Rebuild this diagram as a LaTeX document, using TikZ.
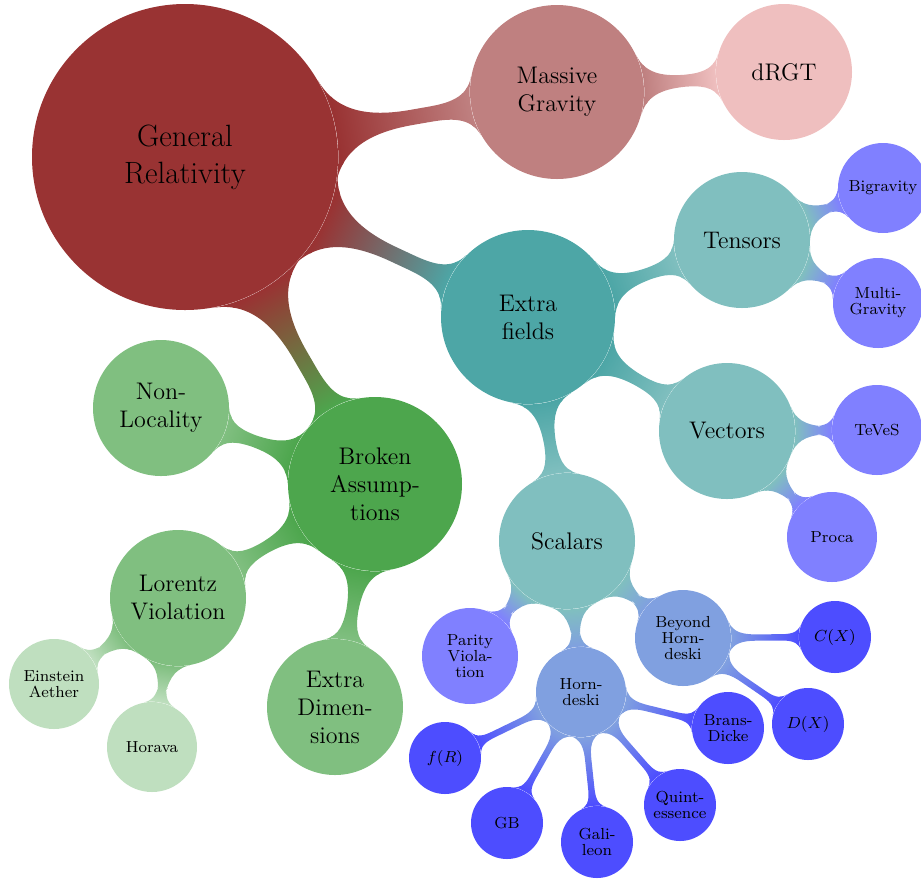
\documentclass[tikz,border=0pt]{standalone}
\usetikzlibrary{mindmap,backgrounds}
\definecolor{grcol}{RGB}{153,51,51}
\definecolor{mgcol}{RGB}{191,128,128}
\definecolor{drgtcol}{RGB}{239,191,191}
\definecolor{efcol}{RGB}{77,166,166}
\definecolor{tealcol}{RGB}{128,191,191}
\definecolor{bluecol}{RGB}{128,128,255}
\definecolor{hdcol}{RGB}{128,160,224}
\definecolor{dbluecol}{RGB}{77,77,255}
\definecolor{bacol}{RGB}{77,166,77}
\definecolor{greencol}{RGB}{128,191,128}
\definecolor{lgreencol}{RGB}{191,223,191}
\begin{document}
\begin{tikzpicture}[x=0.5pt, y=-0.5pt,
    bubble/.style={circle, inner sep=0pt, align=center, text=black},
    rootc/.style={bubble, minimum size=153pt, font=\fontsize{15.4}{18.4}\selectfont},
    firstc/.style={bubble, minimum size=87pt, font=\fontsize{12}{14}\selectfont},
    secondc/.style={bubble, minimum size=68pt, font=\fontsize{12}{14}\selectfont},
    thirdc/.style={bubble, minimum size=45pt, font=\fontsize{8}{8}\selectfont},
    fourthc/.style={bubble, minimum size=36pt, font=\fontsize{8}{8}\selectfont},
    link/.style={line width=#1}]
  \useasboundingbox (0,0) rectangle (921,880);

  \node[rootc, fill=grcol] (gr) at (185,157) {General\\Relativity};

  \node[firstc, fill=mgcol] (mg) at (557,92) {Massive\\Gravity};
  \node[secondc, fill=drgtcol] (drgt) at (784,72) {dRGT};

  \node[firstc, fill=efcol] (ef) at (528,317) {Extra\\fields};
  \node[secondc, fill=tealcol] (tens) at (742,240) {Tensors};
  \node[thirdc, fill=bluecol] (bigr) at (883,188) {Bigravity};
  \node[thirdc, fill=bluecol] (multi) at (878,303) {Multi-\\Gravity};
  \node[secondc, fill=tealcol] (vec) at (727,431) {Vectors};
  \node[thirdc, fill=bluecol] (teves) at (877,430) {TeVeS};
  \node[thirdc, fill=bluecol] (proca) at (832,537) {Proca};
  \node[secondc, fill=tealcol] (scal) at (567,541) {Scalars};
  \node[thirdc, minimum size=48pt, fill=bluecol] (parity) at (470,656) {Parity\\Viola-\\tion};
  \node[thirdc, fill=hdcol] (horn) at (581,692) {Horn-\\deski};
  \node[thirdc, minimum size=48pt, fill=hdcol] (beyond) at (683,638) {Beyond\\Horn-\\deski};
  \node[fourthc, fill=dbluecol] (cx) at (835,637) {$C(X)$};
  \node[fourthc, fill=dbluecol] (dx) at (808,724) {$D(X)$};
  \node[fourthc, fill=dbluecol] (bd) at (728,728) {Brans-\\Dicke};
  \node[fourthc, fill=dbluecol] (quint) at (680,805) {Quint-\\essence};
  \node[fourthc, fill=dbluecol] (gali) at (597,842) {Gali-\\leon};
  \node[fourthc, fill=dbluecol] (gb) at (507,823) {GB};
  \node[fourthc, fill=dbluecol] (fr) at (445,758) {$f(R)$};

  \node[firstc, fill=bacol] (ba) at (375,484) {Broken\\Assump-\\tions};
  \node[secondc, fill=greencol] (nonloc) at (161,408) {Non-\\Locality};
  \node[secondc, fill=greencol] (lorentz) at (178,598) {Lorentz\\Violation};
  \node[secondc, fill=greencol] (extradim) at (335,707) {Extra\\Dimen-\\sions};
  \node[thirdc, fill=lgreencol] (aether) at (54,684) {Einstein\\Aether};
  \node[thirdc, fill=lgreencol] (horava) at (152,747) {Horava};

  \begin{scope}[on background layer]
    \path[link=7pt] (gr) to[circle connection bar switch color=from (grcol) to (mgcol)] (mg);
    \path[link=7pt] (gr) to[circle connection bar switch color=from (grcol) to (efcol)] (ef);
    \path[link=7pt] (gr) to[circle connection bar switch color=from (grcol) to (bacol)] (ba);
    \path[link=5pt] (mg) to[circle connection bar switch color=from (mgcol) to (drgtcol)] (drgt);
    \foreach \b in {tens,vec,scal}
      \path[link=5pt] (ef) to[circle connection bar switch color=from (efcol) to (tealcol)] (\b);
    \foreach \b in {nonloc,lorentz,extradim}
      \path[link=5pt] (ba) to[circle connection bar switch color=from (bacol) to (greencol)] (\b);
    \foreach \a/\b in {tens/bigr,tens/multi,vec/teves,vec/proca,scal/parity}
      \path[link=4pt] (\a) to[circle connection bar switch color=from (tealcol) to (bluecol)] (\b);
    \foreach \b in {horn,beyond}
      \path[link=4pt] (scal) to[circle connection bar switch color=from (tealcol) to (hdcol)] (\b);
    \foreach \b in {aether,horava}
      \path[link=4pt] (lorentz) to[circle connection bar switch color=from (greencol) to (lgreencol)] (\b);
    \foreach \a/\b in {beyond/cx,beyond/dx,horn/bd,horn/quint,horn/gali,horn/gb,horn/fr}
      \path[link=3.5pt] (\a) to[circle connection bar switch color=from (hdcol) to (dbluecol)] (\b);
  \end{scope}
\end{tikzpicture}
\end{document}
